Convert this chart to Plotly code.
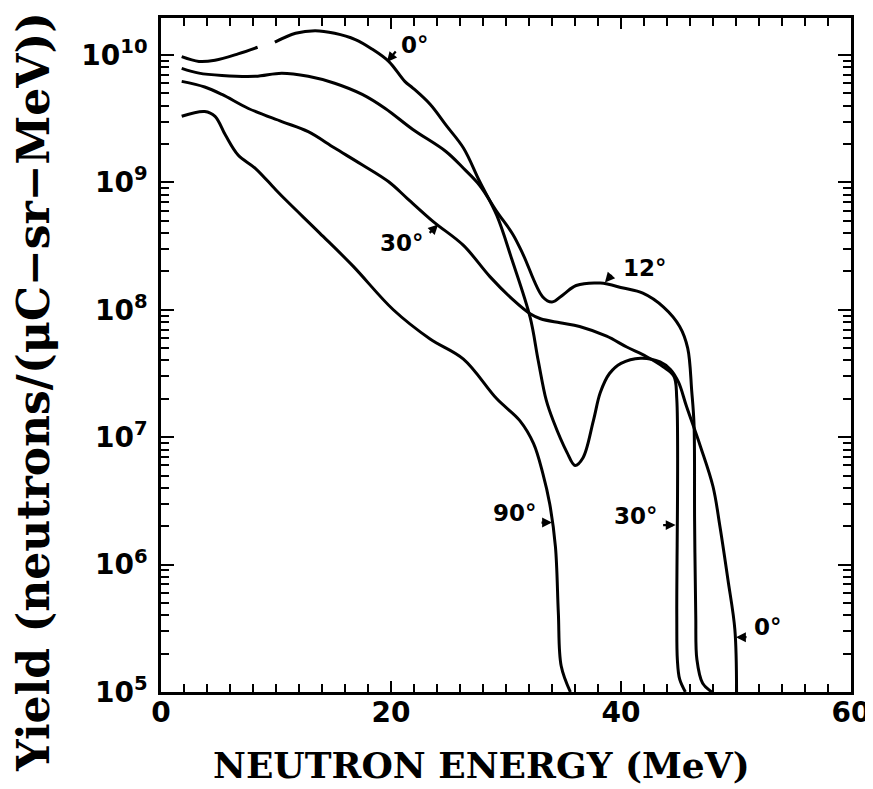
import plotly.graph_objects as go

# ---- data (energy in MeV, yield in neutrons/(uC-sr-MeV)) ----
e_0deg = [1.8, 3.3, 4.7, 6.7, 8.4, None, 9.9, 11.7, 13.4, 15.1, 16.9, 18.3, 19.8, 21.2, 21.9,
          23.4, 24.8, 26.3, 27.7, 29.2, 30.5, 32.1, 32.8, 33.5, 34.1, 35.3, 36.0, 36.7,
          37.6, 38.2, 39.0, 40.0, 41.7, 43.4, 44.3, 45.0, 45.7, 46.9, 48.0, 48.6, 49.3,
          49.9, 50.05]
y_0deg = [9.7e9, 8.9e9, 9.1e9, 1.02e10, 1.15e10, None, 1.26e10, 1.48e10, 1.55e10, 1.48e10,
          1.32e10, 1.12e10, 8.9e9, 6.2e9, 5.5e9, 4.1e9, 2.8e9, 1.86e9, 1.02e9, 5.5e8, 2.5e8,
          8.7e7, 4.0e7, 1.95e7, 1.35e7, 7.6e6, 6.0e6, 6.9e6, 1.35e7, 2.24e7, 3.16e7,
          3.8e7, 4.17e7, 3.9e7, 3.4e7, 2.7e7, 1.74e7, 8.5e6, 4.1e6, 2.0e6, 7.6e5, 3.1e5,
          1.0e5]

e_12deg = [1.8, 3.3, 5.3, 8.2, 10.5, 12.8, 15.1, 17.5, 19.5, 21.9, 24.8, 26.3, 27.7, 29.2,
           30.6, 31.5, 33.2, 34.0, 35.0, 36.1, 38.2, 40.2, 41.9, 43.7, 45.1, 45.8, 46.15,
           46.35, 46.4, 46.5, 46.6, 47.1, 47.9]
y_12deg = [7.85e9, 7.2e9, 6.9e9, 6.8e9, 7.2e9, 6.8e9, 6.0e9, 4.9e9, 3.8e9, 2.6e9, 1.74e9,
           1.29e9, 9.5e8, 5.9e8, 3.9e8, 2.7e8, 1.26e8, 1.15e8, 1.32e8, 1.55e8, 1.62e8,
           1.48e8, 1.35e8, 1.05e8, 7.4e7, 5.0e7, 2.3e7, 1.26e7, 2.2e6, 4.0e5, 1.8e5,
           1.17e5, 1.0e5]

e_30deg = [1.8, 3.8, 5.3, 7.6, 10.5, 12.8, 15.1, 17.45, 19.8, 21.4, 23.7, 26.3, 28.6, 30.6,
           32.1, 33.0, 34.7, 36.4, 38.75, 40.5, 42.2, 43.7, 44.6, 44.85, 44.85, 44.9, 45.1,
           45.6]
y_30deg = [6.2e9, 5.6e9, 4.9e9, 3.8e9, 3.0e9, 2.5e9, 1.86e9, 1.38e9, 1.01e9, 7.5e8, 4.9e8,
           3.2e8, 1.82e8, 1.2e8, 9.3e7, 8.5e7, 7.9e7, 7.4e7, 6.2e7, 5.1e7, 4.3e7, 3.55e7,
           3.0e7, 2.0e7, 4.0e5, 1.8e5, 1.26e5, 1.0e5]

e_90deg = [1.8, 3.8, 4.7, 5.6, 6.7, 8.2, 9.9, 10.9, 13.8, 16.7, 20.2, 23.4, 26.3, 29.2,
           31.2, 32.4, 33.2, 33.8, 34.3, 34.55, 34.8, 35.6]
y_90deg = [3.3e9, 3.6e9, 3.3e9, 2.35e9, 1.64e9, 1.29e9, 8.9e8, 7.2e8, 4.0e8, 2.2e8, 1.0e8,
           5.9e7, 4.1e7, 2.0e7, 1.35e7, 8.9e6, 5.2e6, 3.0e6, 1.38e6, 4.2e5, 1.6e5, 1.0e5]

x_tick_vals = [0, 20, 40, 60]
y_tick_vals = [1e5, 1e6, 1e7, 1e8, 1e9, 1e10]
y_tick_text = ["10<sup>5</sup>", "10<sup>6</sup>", "10<sup>7</sup>", "10<sup>8</sup>",
               "10<sup>9</sup>", "10<sup>10</sup>"]
y_minor_vals = [m * 10 ** p for p in range(5, 11) for m in range(2, 10)]

# curve labels: (text, text E, text log10 y, arrow tip E, arrow tip log10 y, ax, ay)
labels = [
    ("0°", 22.1, 10.08, 19.65, 9.945, 10, -12),
    ("30°", 20.96, 8.524, 24.1, 8.67, -10, 10),
    ("12°", 42.1, 8.33, 38.6, 8.215, 8, -9),
    ("90°", 30.78, 6.405, 34.0, 6.33, -12, 0),
    ("30°", 41.3, 6.381, 44.75, 6.31, -14, 0),
    ("0°", 52.8, 5.51, 50.0, 5.43, 12, 0),
]

fig = go.Figure()
line_style = dict(color="black", width=3, shape="spline", smoothing=1.0)
for e, y in [(e_0deg, y_0deg), (e_12deg, y_12deg), (e_30deg, y_30deg), (e_90deg, y_90deg)]:
    fig.add_trace(go.Scatter(x=e, y=y, mode="lines", line=line_style,
                             connectgaps=False, showlegend=False, hoverinfo="skip"))

annotations = []
for txt, tx, ty, px, py, ax, ay in labels:
    annotations.append(dict(x=tx, y=ty, xref="x", yref="y", text=txt, showarrow=False,
                            font=dict(family="DejaVu Sans", size=23, color="black",
                                      weight="bold")))
    annotations.append(dict(x=px, y=py, xref="x", yref="y", text="", showarrow=True,
                            ax=ax, ay=ay, arrowhead=2, arrowsize=0.9, arrowwidth=2.2,
                            arrowcolor="black"))

title_family = "DejaVu Serif"
annotations.append(dict(x=0.465, y=-0.108, xref="paper", yref="paper",
                        xanchor="center", yanchor="middle",
                        text="NEUTRON ENERGY (MeV)", showarrow=False,
                        font=dict(family=title_family, size=36, color="black",
                                  weight="bold")))
annotations.append(dict(x=-0.186, y=0.445, xref="paper", yref="paper",
                        xanchor="center", yanchor="middle",
                        text="Yield (neutrons/(μC−sr−MeV))", showarrow=False, textangle=-90,
                        font=dict(family=title_family, size=44, color="black",
                                  weight="bold")))

tickfont = dict(family="DejaVu Sans", size=28, color="black", weight="bold")

# page body has an 8 px margin: figure is offset to keep the plot area in place
fig.update_layout(
    width=865, height=781,
    margin=dict(l=153, r=22, t=10, b=97, autoexpand=False),
    paper_bgcolor="white", plot_bgcolor="white",
    annotations=annotations,
    xaxis=dict(range=[0, 60], tickmode="array", tickvals=x_tick_vals,
               ticks="inside", ticklen=11, tickwidth=2, tickcolor="black",
               minor=dict(dtick=2, ticks="inside", ticklen=8, tickwidth=2,
                          tickcolor="black", showgrid=False),
               showline=True, linecolor="black", linewidth=2.6, mirror="allticks",
               showgrid=False, zeroline=False, tickfont=tickfont, automargin=False,
               ticklabelstandoff=-6),
    yaxis=dict(type="log", range=[5, 10.29], tickmode="array", tickvals=y_tick_vals,
               ticktext=y_tick_text,
               ticks="inside", ticklen=13, tickwidth=2, tickcolor="black",
               minor=dict(tickmode="array", tickvals=y_minor_vals, ticks="inside",
                          ticklen=8, tickwidth=2, tickcolor="black", showgrid=False),
               showline=True, linecolor="black", linewidth=2.6, mirror="allticks",
               showgrid=False, zeroline=False, tickfont=tickfont, automargin=False,
               ticklabelstandoff=5),
)

fig.write_html("out.html")
